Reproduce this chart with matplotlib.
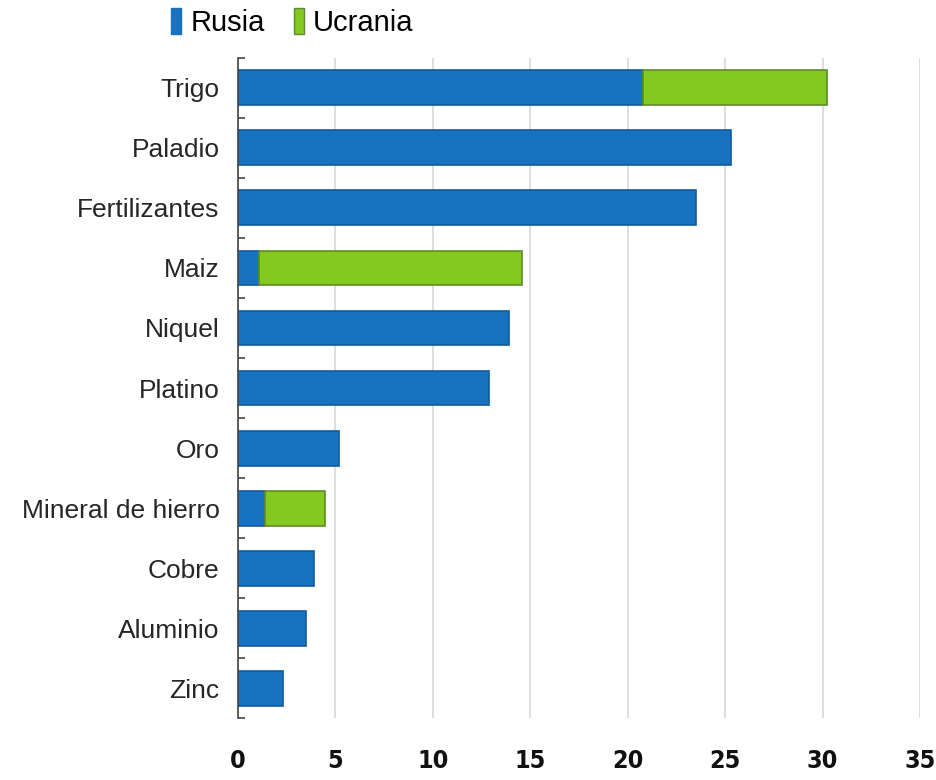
import numpy as np
import matplotlib.pyplot as plt
from matplotlib.patches import Patch

# productos, de arriba hacia abajo
productos = ["Trigo", "Paladio", "Fertilizantes", "Maiz", "Niquel", "Platino",
             "Oro", "Mineral de hierro", "Cobre", "Aluminio", "Zinc"]
rusia = [20.8, 25.3, 23.5, 1.1, 13.9, 12.9, 5.2, 1.4, 3.9, 3.5, 2.3]
ucrania = [9.4, 0, 0, 13.5, 0, 0, 0, 3.1, 0, 0, 0]
x_ticks = [0, 5, 10, 15, 20, 25, 30, 35]

AZUL = "#1872c2"
VERDE = "#84c920"

fig = plt.figure(figsize=(9.36, 7.8), dpi=100)
ax = fig.add_axes([0.254, 0.079, 0.729, 0.847])

y = np.arange(len(productos))
ax.barh(y, rusia, height=0.58, color=AZUL, edgecolor="#135a9c", linewidth=1.2, zorder=3)
# solo los productos con participación de Ucrania
uy = [i for i in y if ucrania[i] > 0]
ax.barh(uy, [ucrania[i] for i in uy], left=[rusia[i] for i in uy], height=0.58,
        color=VERDE, edgecolor="#5f8a2c", linewidth=1.2, zorder=3)

ax.set_ylim(len(productos) - 0.5, -0.5)
ax.set_xlim(0, 35)

ax.set_yticks(y)
ax.set_yticklabels(productos, fontsize=19, family="Liberation Sans", color="#262626")
ax.tick_params(axis="y", which="major", length=0, pad=13)
ax.set_yticks(np.arange(-0.5, len(productos)), minor=True)
ax.tick_params(axis="y", which="minor", direction="in", length=5, width=1.2, color="#444444")

ax.set_xticks(x_ticks)
ax.set_xticklabels([str(t) for t in x_ticks], fontsize=18, weight="bold",
                   family="DejaVu Sans", stretch="condensed", color="#111111")
ax.tick_params(axis="x", length=0, pad=22)

ax.grid(axis="x", color="#d8d8d8", linewidth=1.2, zorder=0)
for s in ["top", "right", "bottom"]:
    ax.spines[s].set_visible(False)
ax.spines["left"].set_color("#444444")
ax.spines["left"].set_linewidth(1.2)
ax.spines["left"].set_zorder(4)

handles = [Patch(facecolor=AZUL, edgecolor=AZUL, label="Rusia"),
           Patch(facecolor=VERDE, edgecolor="#5f8a2c", label="Ucrania")]
fig.legend(handles=handles, loc="center left", bbox_to_anchor=(0.183, 0.971), ncol=2,
           frameon=False, borderpad=0, borderaxespad=0,
           handlelength=0.35, handleheight=1.0, handletextpad=0.3,
           columnspacing=1.0, prop={"family": "Liberation Sans", "size": 21})

fig.savefig("out.png", dpi=100, facecolor="white")
